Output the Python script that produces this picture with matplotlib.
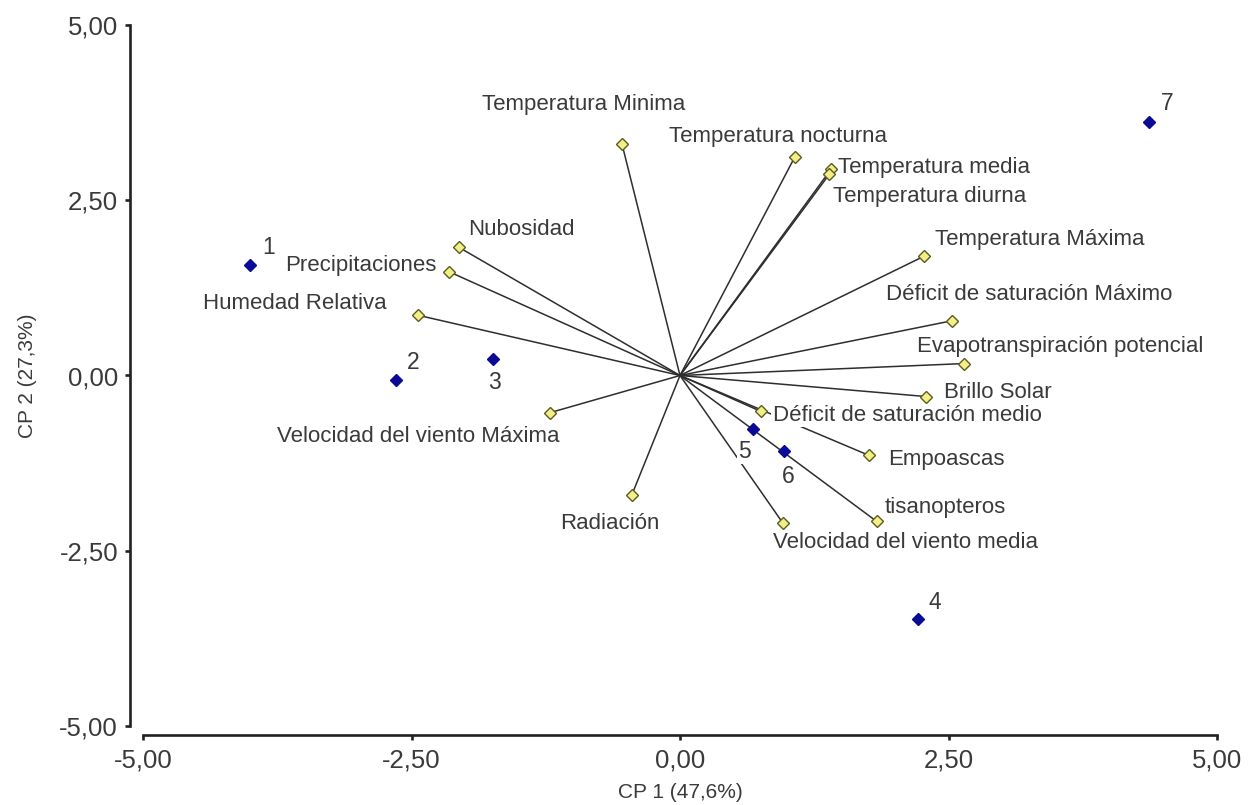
import matplotlib
matplotlib.use("Agg")
import matplotlib.pyplot as plt

plt.rcParams['font.family'] = ['Liberation Sans', 'DejaVu Sans']

# variables (loadings, CP1 / CP2)
var_names = ["Temperatura Minima", "Temperatura nocturna", "Temperatura media",
             "Temperatura diurna", "Temperatura Máxima", "Déficit de saturación Máximo",
             "Evapotranspiración potencial", "Brillo Solar", "Déficit de saturación medio",
             "Empoascas", "tisanopteros", "Velocidad del viento media", "Radiación",
             "Velocidad del viento Máxima", "Humedad Relativa", "Precipitaciones", "Nubosidad"]
var_x = [-0.54, 1.07, 1.41, 1.39, 2.27, 2.53, 2.64, 2.29, 0.75,
         1.76, 1.83, 0.96, -0.45, -1.21, -2.44, -2.15, -2.06]
var_y = [3.30, 3.12, 2.95, 2.87, 1.70, 0.78, 0.17, -0.30, -0.51,
         -1.14, -2.08, -2.11, -1.71, -0.53, 0.86, 1.48, 1.83]

# observaciones (scores)
obs_names = ["1", "2", "3", "4", "5", "6", "7"]
obs_x = [-4.00, -2.64, -1.74, 2.22, 0.68, 0.97, 4.37]
obs_y = [1.57, -0.07, 0.24, -3.48, -0.76, -1.08, 3.61]

ticks = [-5, -2.5, 0, 2.5, 5]
tick_labels = ["-5,00", "-2,50", "0,00", "2,50", "5,00"]

# label offsets in pixels (left edge / vertical centre of the text)
var_off = [(-140, 40), (-126, 20), (7, 1), (4, -22), (11, 17), (-66, 26),
           (-47, 17), (18, 4), (12, -4), (19, -4), (8, 14), (-10, -19),
           (-72, -28), (-273, -24), (-215, 12), (-164, 6), (9, 18)]
obs_off = [(12, 18), (10, 18), (-5, -24), (10, 17), (-15, -23), (-2, -25), (12, 19)]

txt_col = "#3a3a3a"

fig = plt.figure(figsize=(12.53, 8.05), dpi=100)
ax = fig.add_axes([143/1253, 79/805, 1074/1253, 701/805])

for x, y in zip(var_x, var_y):
    ax.plot([0, x], [0, y], color="#2e2e2e", lw=1.1, zorder=1)

ax.plot(var_x, var_y, "D", ms=6, mfc="#f2ef86", mec="#5c5c20", mew=1.0,
        ls="none", zorder=3)
ax.plot(obs_x, obs_y, "D", ms=6, mfc="#0a0a96", mec="#0a0a96",
        ls="none", zorder=3)

for name, x, y, off in zip(var_names, var_x, var_y, var_off):
    ax.annotate(name, (x, y), xytext=off, textcoords="offset pixels",
                ha="left", va="center", fontsize=16, color=txt_col, zorder=2,
                bbox=dict(boxstyle="square,pad=0.05", fc="white", ec="none"))

for name, x, y, off in zip(obs_names, obs_x, obs_y, obs_off):
    ax.annotate(name, (x, y), xytext=off, textcoords="offset pixels",
                ha="left", va="center", fontsize=16.5, color=txt_col, zorder=2,
                bbox=dict(boxstyle="square,pad=0.05", fc="white", ec="none"))

ax.set_xlim(-5, 5)
ax.set_ylim(-5, 5)
ax.set_xticks(ticks)
ax.set_xticklabels(tick_labels)
ax.set_yticks(ticks)
ax.set_yticklabels(tick_labels)

for s in ["top", "right"]:
    ax.spines[s].set_visible(False)
ax.spines["left"].set_position(("outward", 9.4))
ax.spines["bottom"].set_position(("outward", 6.5))
for s in ["left", "bottom"]:
    ax.spines[s].set_linewidth(1.9)
    ax.spines[s].set_color("#222222")

ax.tick_params(axis="both", direction="out", length=3.6, width=1.9,
               color="#222222", labelsize=18.5, labelcolor=txt_col)
ax.tick_params(axis="y", pad=5)
ax.tick_params(axis="x", pad=6)

ax.set_xlabel("CP 1 (47,6%)", fontsize=15, color=txt_col, labelpad=8)
ax.set_ylabel("CP 2 (27,3%)", fontsize=15, color=txt_col, labelpad=16)

fig.savefig("out.png", dpi=100, facecolor="white")
